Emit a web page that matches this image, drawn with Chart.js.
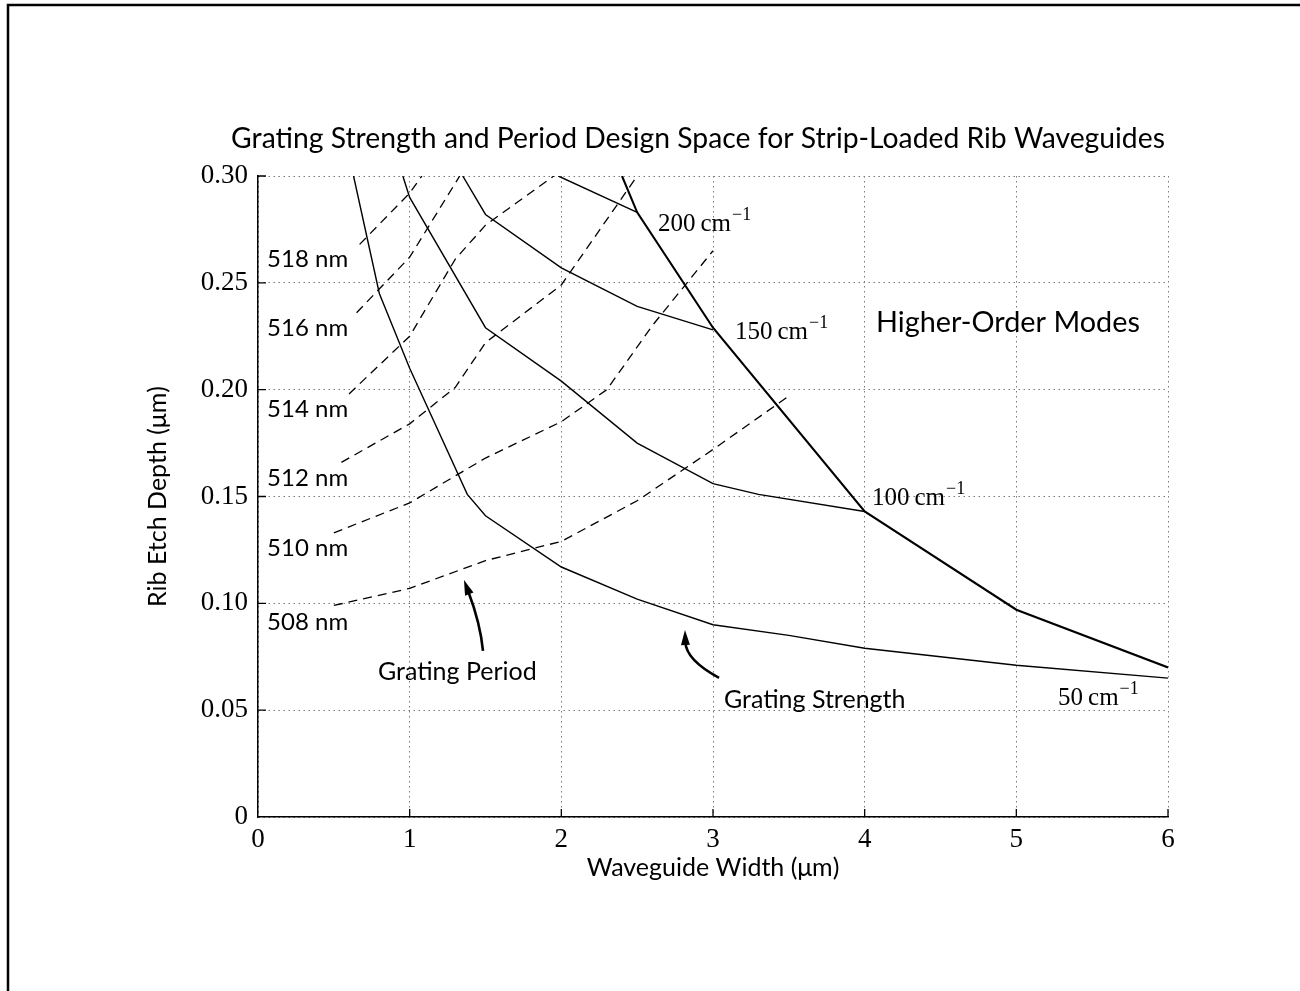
<!DOCTYPE html>
<html>
<head>
<meta charset="utf-8">
<title>Grating Strength and Period Design Space</title>
<script src="https://cdn.jsdelivr.net/npm/chart.js@4.4.1/dist/chart.umd.min.js"></script>
<style>
  html, body { margin: 0; padding: 0; background: #fff; }
  canvas { display: block; }
</style>
</head>
<body>
<canvas id="designSpace" width="1300" height="991"></canvas>
<script>
// Axis tick labels
const widthTicks = ['0', '1', '2', '3', '4', '5', '6'];
const depthTicks = ['0', '0.05', '0.10', '0.15', '0.20', '0.25', '0.30'];

// Grating strength contours, [waveguide width (µm), rib etch depth (µm)]
const kappa50  = [[0.63,0.300],[0.80,0.245],[1.00,0.210],[1.38,0.151],[1.50,0.141],[2.00,0.117],[2.50,0.102],[3.00,0.090],[3.50,0.085],[4.00,0.079],[5.00,0.071],[6.00,0.065]];
const kappa100 = [[0.955,0.300],[1.00,0.290],[1.50,0.229],[2.00,0.204],[2.50,0.175],[3.00,0.156],[3.30,0.151],[4.00,0.143]];
const kappa150 = [[1.35,0.300],[1.50,0.282],[2.00,0.257],[2.50,0.239],[3.00,0.228]];
const kappa200 = [[1.98,0.300],[2.50,0.283]];

// Single-mode limit: above this line higher-order modes are guided
const modeCutoff = [[2.40,0.300],[2.50,0.283],[3.00,0.229],[4.00,0.143],[5.00,0.097],[6.00,0.070]];

// Grating period contours
const period508 = [[0.50,0.099],[1.00,0.107],[1.50,0.120],[2.00,0.129],[2.50,0.148],[3.00,0.172],[3.50,0.197]];
const period510 = [[0.50,0.133],[1.00,0.147],[1.50,0.168],[2.00,0.185],[2.30,0.200],[2.60,0.230],[3.00,0.265]];
const period512 = [[0.55,0.166],[1.00,0.184],[1.30,0.201],[1.50,0.222],[2.00,0.249],[2.50,0.300]];
const period514 = [[0.60,0.198],[1.00,0.225],[1.30,0.261],[1.50,0.277],[1.95,0.300]];
const period516 = [[0.65,0.236],[1.00,0.262],[1.33,0.300]];
const period518 = [[0.67,0.268],[1.00,0.292],[1.08,0.300]];

// Contour label text
const kappaLabels  = ['200', '150', '100', '50'];
const periodLabels = ['518 nm', '516 nm', '514 nm', '512 nm', '510 nm', '508 nm'];

const SANS = 'Lato, "Open Sans", sans-serif';
const SERIF = '"Liberation Serif", "DejaVu Serif", serif';

const toXY = pts => pts.map(p => ({ x: p[0], y: p[1] }));

function solid(label, pts, width) {
  return { label, data: toXY(pts), borderColor: '#000', borderWidth: width || 1.4,
           showLine: true, pointRadius: 0, tension: 0, fill: false };
}
function dashed(label, pts) {
  return { label, data: toXY(pts), borderColor: '#000', borderWidth: 1.3, borderDash: [9, 6],
           showLine: true, pointRadius: 0, tension: 0, fill: false };
}

// Label anchors in data units: [x left, y baseline]
const kappaAnchors  = [[2.637,0.2743],[3.145,0.2237],[4.048,0.1460],[5.275,0.0524]];
const periodAnchors = [[0.06,0.2574],[0.06,0.2251],[0.06,0.1872],[0.06,0.1549],[0.06,0.1222],[0.06,0.0875]];

function drawArrow(ctx, p0, c, p1) {
  const ang = Math.atan2(p1.y - c.y, p1.x - c.x);
  const len = 15, half = 4.5;
  const bx = p1.x - Math.cos(ang) * len, by = p1.y - Math.sin(ang) * len;
  ctx.beginPath();
  ctx.moveTo(p0.x, p0.y);
  ctx.quadraticCurveTo(c.x, c.y, bx + Math.cos(ang) * 3, by + Math.sin(ang) * 3);
  ctx.lineWidth = 2.6;
  ctx.stroke();
  ctx.beginPath();
  ctx.moveTo(p1.x, p1.y);
  ctx.lineTo(bx - Math.sin(ang) * half, by + Math.cos(ang) * half);
  ctx.lineTo(bx + Math.sin(ang) * half, by - Math.cos(ang) * half);
  ctx.closePath();
  ctx.fill();
}

const decorations = {
  id: 'decorations',
  beforeDraw(chart) {
    const ctx = chart.ctx;
    ctx.save();
    ctx.fillStyle = '#fff';
    ctx.fillRect(0, 0, chart.width, chart.height);
    // figure frame (left and top edges)
    ctx.strokeStyle = '#000';
    ctx.lineWidth = 2.5;
    ctx.beginPath();
    ctx.moveTo(8, chart.height);
    ctx.lineTo(8, 5);
    ctx.lineTo(chart.width, 5);
    ctx.stroke();
    ctx.restore();
  },
  afterDraw(chart) {
    const { ctx, scales: { x, y } } = chart;
    const P = (dx, dy) => ({ x: x.getPixelForValue(dx), y: y.getPixelForValue(dy) });
    ctx.save();
    ctx.fillStyle = '#000';
    ctx.strokeStyle = '#000';

    // title
    ctx.font = '28.3px ' + SANS;
    ctx.textAlign = 'center';
    ctx.textBaseline = 'alphabetic';
    ctx.fillText('Grating Strength and Period Design Space for Strip-Loaded Rib Waveguides', 698, 148);

    // inward tick marks
    ctx.lineWidth = 1.3;
    ctx.beginPath();
    x.ticks.forEach(t => {
      if (t.value === 0) return;
      const px = x.getPixelForValue(t.value);
      ctx.moveTo(px, y.bottom); ctx.lineTo(px, y.bottom - 8);
    });
    y.ticks.forEach(t => {
      if (t.value === 0) return;
      const py = y.getPixelForValue(t.value);
      ctx.moveTo(x.left, py); ctx.lineTo(x.left + 8, py);
    });
    ctx.stroke();

    ctx.textAlign = 'left';

    // grating period labels
    ctx.font = '24px ' + SANS;
    periodLabels.forEach((txt, i) => {
      const p = P(periodAnchors[i][0], periodAnchors[i][1]);
      ctx.fillText(txt, p.x, p.y);
    });

    // grating strength labels with cm^-1
    kappaLabels.forEach((txt, i) => {
      const p = P(kappaAnchors[i][0], kappaAnchors[i][1]);
      ctx.font = '25px ' + SERIF;
      const main = txt + '\u2009cm';
      ctx.fillText(main, p.x, p.y);
      const w = ctx.measureText(main).width;
      ctx.font = '18px ' + SERIF;
      ctx.fillText('\u22121', p.x + w + 1, p.y - 11);
    });

    // region and curve-family annotations
    ctx.font = '28.8px ' + SANS;
    let p = P(4.075, 0.227);
    ctx.fillText('Higher-Order Modes', p.x, p.y);
    ctx.font = '25px ' + SANS;
    p = P(0.791, 0.0641);
    ctx.fillText('Grating Period', p.x, p.y);
    p = P(3.072, 0.0510);
    ctx.fillText('Grating Strength', p.x, p.y);

    // pointer arrows
    drawArrow(ctx, P(1.4835, 0.0777), P(1.467, 0.0904), P(1.358, 0.1109));
    drawArrow(ctx, P(3.040, 0.0651), P(2.822, 0.0735), P(2.815, 0.0875));
    ctx.restore();
  }
};

new Chart(document.getElementById('designSpace'), {
  type: 'scatter',
  data: {
    datasets: [
      solid('50 cm-1', kappa50),
      solid('100 cm-1', kappa100),
      solid('150 cm-1', kappa150),
      solid('200 cm-1', kappa200),
      solid('Higher-order mode cutoff', modeCutoff, 2.1),
      dashed('508 nm', period508),
      dashed('510 nm', period510),
      dashed('512 nm', period512),
      dashed('514 nm', period514),
      dashed('516 nm', period516),
      dashed('518 nm', period518)
    ]
  },
  options: {
    responsive: false,
    devicePixelRatio: 1,
    animation: false,
    layout: { padding: { left: 0, right: 132, top: 176, bottom: 0 } },
    plugins: { legend: { display: false }, tooltip: { enabled: false }, title: { display: false } },
    scales: {
      x: {
        type: 'linear', min: 0, max: 6,
        afterFit(s) { s.height = 174; },
        ticks: { stepSize: 1, padding: 7, color: '#000', font: { family: SERIF, size: 27 },
                 callback: (v, i) => widthTicks[i] },
        grid: { color: '#7a7a7a', lineWidth: 1, drawTicks: false },
        border: { display: true, color: '#000', width: 1.5, dash: [1.5, 3.5] },
        title: { display: true, text: 'Waveguide Width (μm)', color: '#000',
                 font: { family: SANS, size: 25 }, padding: { top: 0, bottom: 108 } }
      },
      y: {
        type: 'linear', min: 0, max: 0.3,
        afterFit(s) { s.width = 258; },
        ticks: { stepSize: 0.05, padding: 10, color: '#000', font: { family: SERIF, size: 27 },
                 callback: (v, i) => depthTicks[i] },
        grid: { color: '#7a7a7a', lineWidth: 1, drawTicks: false },
        border: { display: true, color: '#000', width: 1.5, dash: [1.5, 3.5] },
        title: { display: true, text: 'Rib Etch Depth (μm)', color: '#000',
                 font: { family: SANS, size: 25 }, padding: { top: 143, bottom: 0 } }
      }
    }
  },
  plugins: [decorations]
});
</script>
</body>
</html>
